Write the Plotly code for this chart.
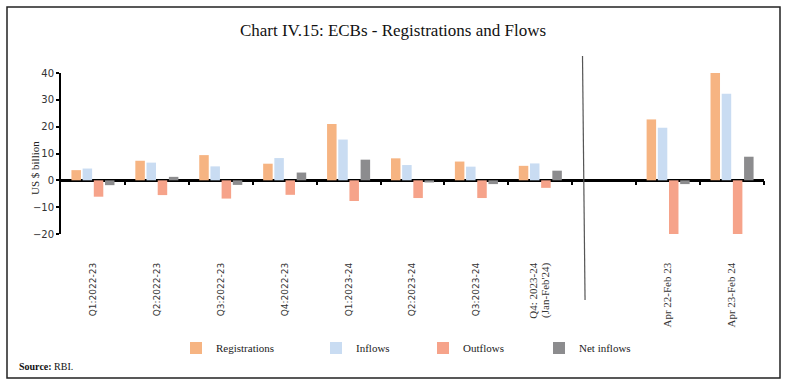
import plotly.graph_objects as go

# ---------------- data ----------------
categories = ["Q1:2022-23", "Q2:2022-23", "Q3:2022-23", "Q4:2022-23", "Q1:2023-24",
              "Q2:2023-24", "Q3:2023-24", "Q4: 2023-24<br>(Jan-Feb'24)", " ",
              "Apr 22-Feb 23", "Apr 23-Feb 24"]
serif_ticks = ["Q4: 2023-24<br>(Jan-Feb'24)", "Apr 22-Feb 23", "Apr 23-Feb 24"]

registrations = [3.8, 7.3, 9.4, 6.2, 21.0, 8.2, 7.0, 5.4, None, 22.7, 40.0]
inflows       = [4.4, 6.6, 5.2, 8.3, 15.2, 5.7, 5.1, 6.3, None, 19.6, 32.3]
outflows      = [-6.1, -5.5, -6.8, -5.4, -7.7, -6.6, -6.6, -2.8, None, -20.3, -20.3]
net_inflows   = [-1.8, 1.3, -1.7, 2.9, 7.7, -0.8, -1.4, 3.6, None, -1.4, 8.8]

series_names  = ["Registrations", "Inflows", "Outflows", "Net inflows"]
series_values = [registrations, inflows, outflows, net_inflows]
series_colors = ["#F6B482", "#C9DCF2", "#F6A38A", "#8C8C8E"]

y_ticks = [-20, -10, 0, 10, 20, 30, 40]

# ---------------- figure ----------------
SERIF = "Liberation Serif"
SANS = "DejaVu Sans"

fig = go.Figure()
legend_ids = ["legend2", "legend3", "legend4", "legend5"]
for name, vals, col, lg in zip(series_names, series_values, series_colors, legend_ids):
    fig.add_trace(go.Bar(x=categories, y=vals, name=name, marker_color=col,
                         marker_line_width=0, legend=lg))

# helper axis for the boundary ticks on the zero line
fig.add_trace(go.Scatter(x=[], y=[], xaxis="x2", showlegend=False, hoverinfo="skip"))

ticktext = []
for c in categories:
    if c in serif_ticks:
        parts = c.split("<br>")
        ticktext.append("<br>".join(
            '<span style="font-family:Liberation Serif;font-size:11px">%s</span>' % p
            for p in parts))
    else:
        ticktext.append(c)

W, H = 786, 386
ml, mr, mt, mb = 61, 22, 73, 152
pw, ph = W - ml - mr, H - mt - mb


def px_x(x):
    return (x - ml) / pw


def px_y(y):
    return (H - mb - y) / ph


ymin, ymax = y_ticks[0], y_ticks[-1]
n = len(categories)

legend_px = [176, 316, 423, 539]
legend_cfg = {}
for lg, lx in zip(legend_ids, legend_px):
    legend_cfg[lg] = dict(x=px_x(lx), y=px_y(348), xanchor="left", yanchor="middle",
                          orientation="h", bgcolor="rgba(0,0,0,0)",
                          font=dict(family=SERIF, size=11, color="#222"),
                          itemwidth=30)

fig.update_layout(
    width=W, height=H,
    margin=dict(l=ml, r=mr, t=mt, b=mb, autoexpand=False),
    paper_bgcolor="white", plot_bgcolor="white",
    barmode="group", bargap=0.3, bargroupgap=0.15,
    showlegend=True,
    title=dict(text="Chart IV.15: ECBs - Registrations and Flows",
               x=0.5, xanchor="center", y=1 - 30 / H, yanchor="middle",
               font=dict(family=SERIF, size=17, color="#111")),
    xaxis=dict(type="category", categoryorder="array", categoryarray=categories,
               range=[-0.5, n - 0.5], tickmode="array", tickvals=categories,
               ticktext=ticktext, tickangle=-90, ticks="", showline=False,
               showgrid=False, zeroline=False, ticklabelstandoff=26,
               tickfont=dict(family=SANS, size=9, color="#333")),
    xaxis2=dict(overlaying="x", anchor="free", position=(0 - ymin) / (ymax - ymin),
                type="linear", range=[-0.5, n - 0.5],
                tickmode="array", tickvals=[i + 0.5 for i in range(n)],
                ticks="outside", ticklen=4, tickwidth=2, tickcolor="black",
                showticklabels=False, showline=False, showgrid=False, zeroline=False,
                side="bottom"),
    yaxis=dict(range=[ymin, ymax], tickmode="array", tickvals=y_ticks,
               ticks="outside", ticklen=3, tickwidth=1.5, tickcolor="black",
               showline=True, linewidth=2, linecolor="black", showgrid=False,
               zeroline=True, zerolinecolor="black", zerolinewidth=2.5,
               tickfont=dict(family=SANS, size=10, color="#333")),
    **legend_cfg,
)

fig.add_annotation(text="US $ billion", textangle=-90, xref="paper", yref="paper",
                   x=px_x(27), y=px_y(168), showarrow=False,
                   font=dict(family=SERIF, size=11, color="#222"))
fig.add_annotation(text="<b>Source:</b> RBI.", xref="paper", yref="paper",
                   x=px_x(17), y=px_y(366), xanchor="left", yanchor="middle",
                   showarrow=False, font=dict(family=SERIF, size=10, color="#111"))

# outer frame
fig.add_shape(type="rect", xref="paper", yref="paper",
              x0=px_x(7), x1=px_x(780), y0=px_y(378), y1=px_y(7),
              line=dict(color="#222", width=1.5), fillcolor="rgba(0,0,0,0)")
# separator between quarterly and annual blocks
fig.add_shape(type="line", xref="x", yref="paper",
              x0=7.66, x1=7.70, y0=px_y(56), y1=px_y(300),
              line=dict(color="#555", width=1.2))

fig.write_html("out.html", config={"displayModeBar": False},
               post_script="document.body.style.margin='0';document.body.style.overflow='hidden';")
